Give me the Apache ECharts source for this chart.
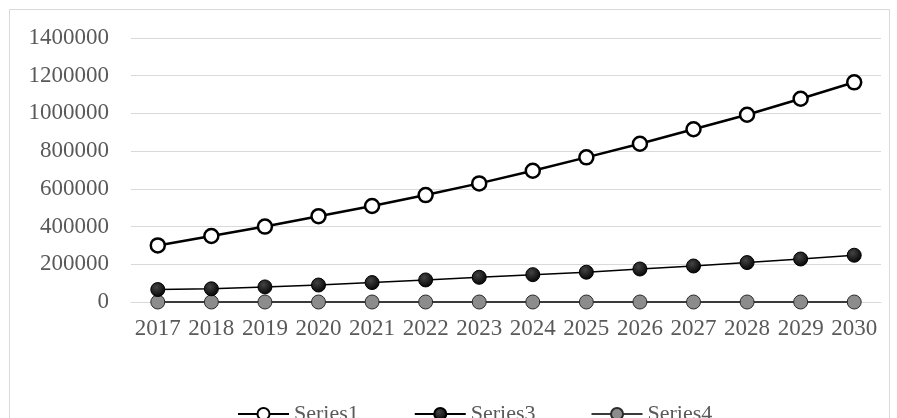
<!DOCTYPE html>
<html>
<head>
<meta charset="utf-8">
<script src="https://cdn.jsdelivr.net/npm/echarts@6/dist/echarts.min.js"></script>
<style>
html, body { margin: 0; padding: 0; background: #fff; }
#chart { width: 897px; height: 418px; }
</style>
</head>
<body>
<div id="chart"></div>
<script>
// data
var years = ['2017', '2018', '2019', '2020', '2021', '2022', '2023', '2024', '2025', '2026', '2027', '2028', '2029', '2030'];
var series1 = [300000, 350000, 400000, 455000, 509000, 567000, 629000, 696000, 767000, 839000, 916000, 993000, 1078000, 1165000];
var series3 = [66000, 70000, 80000, 90000, 103000, 117000, 131000, 145000, 158000, 175000, 191000, 209000, 228000, 248000];
var series4 = [0, 0, 0, 0, 0, 0, 0, 0, 0, 0, 0, 0, 0, 0];

(function(){

var chart = echarts.init(document.getElementById("chart"));
var font = '"Liberation Serif", "Times New Roman", serif';

option = {
    backgroundColor: '#fff',
    animation: false,
    textStyle: { fontFamily: font },
    graphic: [{
        type: 'rect',
        shape: { x: 9.5, y: 9.5, width: 880, height: 420 },
        style: { fill: 'none', stroke: '#d9d9d9', lineWidth: 1 },
        silent: true
    }],
    grid: {
        left: 131,
        right: 16,
        top: 38,
        bottom: 116
    },
    legend: {
        top: 398,
        left: 232,
        itemWidth: 51,
        itemHeight: 15,
        itemGap: 55,
        textStyle: { fontFamily: font, fontSize: 22, color: '#595959' },
        data: ['Series1', 'Series3', 'Series4']
    },
    xAxis: {
        type: 'category',
        data: years,
        boundaryGap: true,
        axisLine: { show: true, lineStyle: { color: '#d9d9d9', width: 1 } },
        axisTick: { show: false },
        axisLabel: { fontFamily: font, fontSize: 23, color: '#595959', margin: 15, interval: 0 }
    },
    yAxis: {
        type: 'value',
        min: 0,
        max: 1400000,
        interval: 200000,
        axisLine: { show: false },
        axisTick: { show: false },
        axisLabel: {
            fontFamily: font, fontSize: 23, color: '#595959', margin: 22,
            formatter: function (v) { return String(v); }
        },
        splitLine: { lineStyle: { color: '#d9d9d9', width: 1 } }
    },
    series: [
        {
            name: 'Series4',
            type: 'line',
            data: series4,
            symbol: 'circle',
            symbolSize: 14,
            z: 2,
            lineStyle: { color: '#3a3a3a', width: 2 },
            itemStyle: { color: '#8c8c8c', borderColor: '#2a2a2a', borderWidth: 1 }
        },
        {
            name: 'Series3',
            type: 'line',
            data: series3,
            symbol: 'circle',
            symbolSize: 14,
            z: 3,
            lineStyle: { color: '#000', width: 1.5 },
            itemStyle: {
                color: new echarts.graphic.RadialGradient(0.4, 0.35, 0.7, [
                    { offset: 0, color: '#444' },
                    { offset: 1, color: '#000' }
                ]),
                borderColor: '#000',
                borderWidth: 1
            }
        },
        {
            name: 'Series1',
            type: 'line',
            data: series1,
            symbol: 'circle',
            symbolSize: 14,
            z: 4,
            lineStyle: { color: '#000', width: 2.5 },
            itemStyle: { color: '#fff', borderColor: '#000', borderWidth: 2.5 }
        }
    ]
};

chart.setOption(option);
})();
</script>
</body>
</html>
